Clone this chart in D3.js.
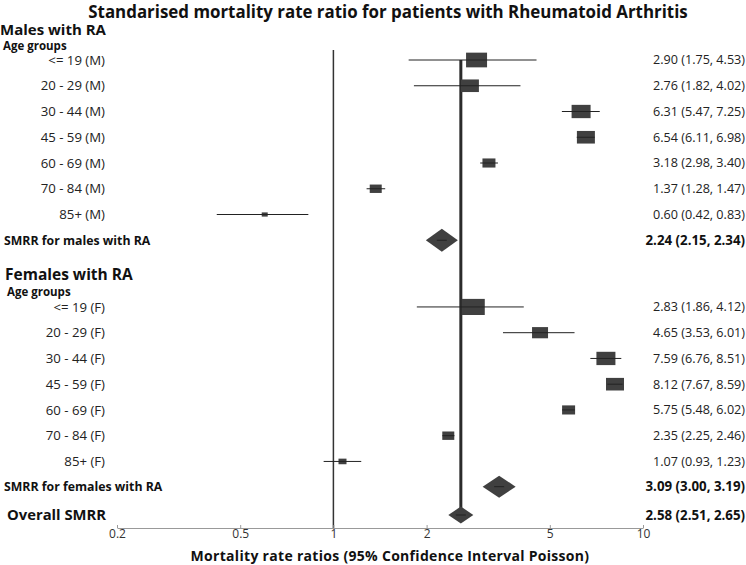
<!DOCTYPE html>
<html><head><meta charset="utf-8">
<script src="https://cdn.jsdelivr.net/npm/d3@7"></script>
<style>body{margin:0;background:#fff}svg{display:block}</style>
</head><body>
<svg id="c" width="746" height="565"></svg>
<script>
// ---- data ----
const maleGroups = ["<= 19 (M)","20 - 29 (M)","30 - 44 (M)","45 - 59 (M)","60 - 69 (M)","70 - 84 (M)","85+ (M)"];
const maleEst = [2.90,2.76,6.31,6.54,3.18,1.37,0.60];
const maleLo  = [1.75,1.82,5.47,6.11,2.98,1.28,0.42];
const maleHi  = [4.53,4.02,7.25,6.98,3.40,1.47,0.83];
const maleWeight = [21,18,19,18,13,12,6];
const femaleGroups = ["<= 19 (F)","20 - 29 (F)","30 - 44 (F)","45 - 59 (F)","60 - 69 (F)","70 - 84 (F)","85+ (F)"];
const femaleEst = [2.83,4.65,7.59,8.12,5.75,2.35,1.07];
const femaleLo  = [1.86,3.53,6.76,7.67,5.48,2.25,0.93];
const femaleHi  = [4.12,6.01,8.51,8.59,6.02,2.46,1.23];
const femaleWeight = [23,16,19,18,13,12,8];
const summaryLabels = ["SMRR for males with RA","SMRR for females with RA","Overall SMRR"];
const summaryEst = [2.24,3.09,2.58];
const summaryLo  = [2.15,3.00,2.51];
const summaryHi  = [2.34,3.19,2.65];
const summaryDrawnAt = [2.24,3.43,2.58]; // diamond centres as they appear in the picture
const xTicks = [0.2,0.5,1,2,5,10];
const titleText = "Standarised mortality rate ratio for patients with Rheumatoid Arthritis";
const xTitle = "Mortality rate ratios (95% Confidence Interval Poisson)";

// ---- layout ----
const svg = d3.select("#c");
const F = "'Open Sans', sans-serif";
const x = d3.scaleLog().domain([0.2,10]).range([117,643]);
const y = d3.scaleLinear().domain([0,1]).range([60,85.75]);
const fmt = d3.format(".2f");
const lab = (e,l,h)=>`${fmt(e)} (${fmt(l)}, ${fmt(h)})`;
const wScale = d3.scaleLinear().domain([0,1]).range([0,1]);

const rows = [];
maleGroups.forEach((g,i)=>rows.push({label:g,est:maleEst[i],lo:maleLo[i],hi:maleHi[i],w:maleWeight[i],pos:i,type:"box"}));
rows.push({label:summaryLabels[0],est:summaryEst[0],lo:summaryLo[0],hi:summaryHi[0],at:summaryDrawnAt[0],pos:7,type:"dia",dw:32,dh:23,fs:12.3,lx:4});
const fStart = 9.59;
femaleGroups.forEach((g,i)=>rows.push({label:g,est:femaleEst[i],lo:femaleLo[i],hi:femaleHi[i],w:femaleWeight[i],pos:fStart+i,type:"box"}));
rows.push({label:summaryLabels[1],est:summaryEst[1],lo:summaryLo[1],hi:summaryHi[1],at:summaryDrawnAt[1],pos:fStart+6.98,type:"dia",dw:33,dh:22,fs:12.3,lx:4});
rows.push({label:summaryLabels[2],est:summaryEst[2],lo:summaryLo[2],hi:summaryHi[2],at:summaryDrawnAt[2],pos:17.67,type:"dia",dw:25,dh:17,fs:14.8,lx:7});

// title
svg.append("text").attr("x",388).attr("y",12).attr("dy","0.35em").attr("text-anchor","middle")
  .attr("font-family",F).attr("font-weight","bold").attr("font-size",16.9).attr("fill","#111").text(titleText);

// headers
svg.append("text").attr("x",0).attr("y",30).attr("dy","0.35em").attr("font-family",F).attr("font-weight","bold").attr("font-size",15).attr("fill","#111").text("Males with RA");
svg.append("text").attr("x",3).attr("y",46).attr("dy","0.35em").attr("font-family",F).attr("font-weight","bold").attr("font-size",11.5).attr("fill","#111").text("Age groups");
svg.append("text").attr("x",5).attr("y",275).attr("dy","0.35em").attr("font-family",F).attr("font-weight","bold").attr("font-size",15.5).attr("fill","#111").text("Females with RA");
svg.append("text").attr("x",7).attr("y",292).attr("dy","0.35em").attr("font-family",F).attr("font-weight","bold").attr("font-size",11.5).attr("fill","#111").text("Age groups");

// reference line at 1
svg.append("line").attr("x1",x(1)).attr("x2",x(1)).attr("y1",50).attr("y2",528).attr("stroke","#333").attr("stroke-width",1.5);
// overall line
svg.append("line").attr("x1",x(summaryDrawnAt[2])).attr("x2",x(summaryDrawnAt[2])).attr("y1",60).attr("y2",512).attr("stroke","#2b2b2b").attr("stroke-width",3);

// axis
const ax = svg.append("g").attr("transform","translate(0,528)")
  .call(d3.axisBottom(x).tickValues(xTicks).tickFormat(d=>String(d)).tickSizeInner(-3).tickSizeOuter(0).tickPadding(1));
ax.select(".domain").attr("stroke","#999");
ax.selectAll(".tick line").attr("stroke","#999");
ax.selectAll(".tick text").attr("font-family",F).attr("font-size",12).attr("fill","#333");
svg.append("text").attr("x",390).attr("y",556.5).attr("dy","0.35em").attr("text-anchor","middle")
  .attr("font-family",F).attr("font-weight","bold").attr("font-size",14).attr("letter-spacing",0.3).attr("fill","#111").text(xTitle);

// marks
rows.forEach(r=>{
  const cy = y(r.pos);
  if(r.type==="box"){
    const bw = wScale(r.w), bh = bw*0.7;
    svg.append("rect").attr("x",x(r.est)-bw/2).attr("y",cy-bh/2).attr("width",bw).attr("height",bh).attr("fill","#404040");
    svg.append("line").attr("x1",x(r.lo)).attr("x2",x(r.hi)).attr("y1",cy).attr("y2",cy).attr("stroke","#222").attr("stroke-width",1);
    svg.append("text").attr("x",105).attr("y",cy).attr("dy","0.35em").attr("text-anchor","end")
      .attr("font-family",F).attr("font-size",13.2).attr("fill","#222").text(r.label);
    svg.append("text").attr("x",745).attr("y",cy).attr("dy","0.35em").attr("text-anchor","end")
      .attr("font-family",F).attr("font-size",12.6).attr("fill","#222").text(lab(r.est,r.lo,r.hi));
  } else {
    const cx = x(r.at);
    svg.append("path").attr("d",`M${cx-r.dw/2},${cy}L${cx},${cy-r.dh/2}L${cx+r.dw/2},${cy}L${cx},${cy+r.dh/2}Z`).attr("fill","#404040");
    svg.append("line").attr("x1",cx-5).attr("x2",cx+5).attr("y1",cy).attr("y2",cy).attr("stroke","#222").attr("stroke-width",1);
    svg.append("text").attr("x",r.lx).attr("y",cy).attr("dy","0.35em")
      .attr("font-family",F).attr("font-weight","bold").attr("font-size",r.fs).attr("fill","#111").text(r.label);
    svg.append("text").attr("x",745).attr("y",cy).attr("dy","0.35em").attr("text-anchor","end")
      .attr("font-family",F).attr("font-weight","bold").attr("font-size",13.3).attr("fill","#111").text(lab(r.est,r.lo,r.hi));
  }
});
</script>
</body></html>
